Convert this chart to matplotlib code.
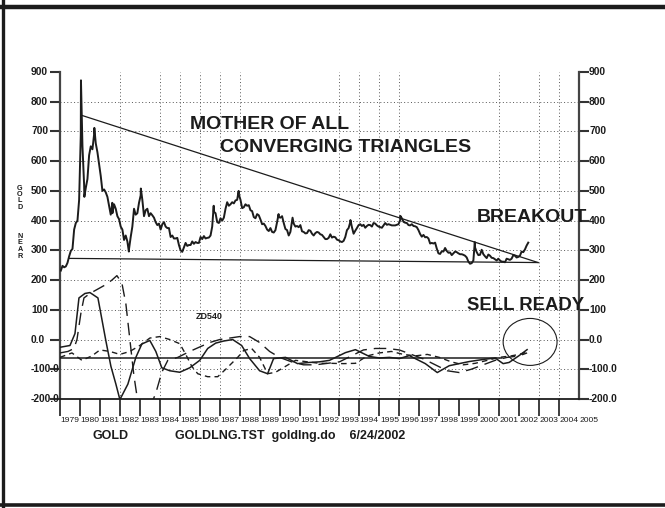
import matplotlib
matplotlib.use("Agg")
import matplotlib.pyplot as plt
import matplotlib.transforms as mtransforms
from matplotlib.patches import Ellipse
import numpy as np

# monthly gold price (near futures), one row per year 1979..2002
gold_monthly = {
    1979: [232, 248, 243, 246, 258, 280, 298, 305, 370, 392, 400, 470],
    1980: [690, 650, 520, 510, 540, 620, 650, 640, 690, 660, 630, 590],
    1981: [550, 500, 505, 495, 480, 450, 420, 425, 455, 440, 415, 405],
    1982: [380, 370, 335, 350, 330, 305, 345, 380, 440, 420, 425, 460],
    1983: [485, 470, 415, 435, 440, 415, 425, 418, 410, 395, 385, 390],
    1984: [370, 388, 395, 380, 375, 375, 345, 350, 340, 340, 342, 318],
    1985: [300, 295, 310, 325, 315, 318, 318, 330, 322, 328, 325, 325],
    1986: [345, 338, 348, 340, 342, 343, 350, 380, 430, 425, 395, 392],
    1987: [408, 400, 410, 440, 462, 450, 455, 462, 458, 468, 470, 488],
    1988: [470, 442, 445, 455, 450, 452, 435, 432, 412, 408, 422, 418],
    1989: [404, 388, 390, 382, 370, 365, 375, 362, 360, 368, 395, 412],
    1990: [410, 415, 392, 372, 368, 350, 362, 398, 390, 380, 382, 378],
    1991: [385, 364, 362, 357, 358, 368, 366, 356, 350, 358, 362, 360],
    1992: [354, 352, 345, 338, 338, 342, 354, 343, 346, 344, 336, 334],
    1993: [330, 328, 332, 345, 368, 375, 395, 378, 356, 366, 375, 385],
    1994: [388, 382, 386, 376, 382, 386, 385, 380, 392, 390, 384, 380],
    1995: [378, 376, 384, 392, 386, 388, 386, 384, 384, 384, 386, 388],
    1996: [402, 408, 396, 393, 392, 385, 384, 388, 382, 381, 378, 368],
    1997: [355, 346, 352, 344, 345, 340, 323, 325, 323, 326, 306, 290],
    1998: [288, 297, 296, 308, 298, 292, 293, 284, 290, 296, 294, 290],
    1999: [287, 287, 285, 282, 276, 262, 255, 257, 266, 310, 294, 284],
    2000: [285, 302, 287, 280, 274, 286, 282, 275, 274, 270, 266, 272],
    2001: [266, 262, 262, 260, 272, 270, 268, 272, 284, 282, 276, 278],
    2002: [282, 296, 294, 303, 316, 326],
}
# short-lived extremes of the weekly line
gold_peaks_t = [1980.05, 1980.22, 1980.72, 1981.62, 1982.45, 1983.05, 1986.7, 1987.95,
                1989.95, 1990.65, 1993.55, 1996.05, 1999.78]
gold_peaks_p = [872, 480, 712, 460, 296, 508, 450, 500, 422, 410, 402, 416, 328]

# oscillator lines (ZD540)
osc_solid_t = [1979.0, 1979.5, 1979.75, 1979.95, 1980.25, 1980.5, 1980.9, 1981.3, 1981.55, 1981.8,
               1982.0, 1982.4, 1982.8, 1983.1, 1983.5, 1983.8, 1984.1, 1984.5, 1985.0, 1985.5,
               1986.0, 1986.4, 1986.8, 1987.2, 1987.65, 1988.1, 1988.5, 1989.0, 1989.4, 1989.7,
               1990.3, 1990.9, 1991.5, 1992.0, 1992.5, 1993.3, 1993.8, 1994.5, 1995.0, 1995.5,
               1996.0, 1996.5, 1997.3, 1997.9, 1998.5, 1999.5, 2000.3, 2000.8, 2001.2, 2001.5,
               2002.0, 2002.4]
osc_solid_v = [-26, -20, 20, 140, 155, 158, 140, -5, -90, -150,
               -202, -150, -60, -15, -3, -40, -95, -105, -110, -95,
               -70, -30, -12, -5, 0, -20, -64, -105, -115, -64,
               -60, -81, -77, -75, -70, -44, -34, -57, -62, -60,
               -64, -54, -81, -111, -88, -74, -66, -62, -81, -77,
               -54, -34]

osc_long_t = [1979.0, 1979.4, 1979.7, 1979.85, 1980.05, 1980.2, 1980.5, 1980.9, 1981.3, 1981.6,
              1981.85, 1982.1, 1982.3, 1982.5, 1982.7, 1982.9, 1983.2, 1983.5, 1983.8, 1984.1,
              1984.4, 1984.9, 1985.5, 1986.0, 1986.5, 1987.0, 1987.5, 1988.0, 1988.5, 1989.0,
              1989.5, 1990.0, 1990.6, 1991.2, 1991.8, 1992.4, 1993.0, 1993.6, 1994.2, 1994.8,
              1995.4, 1996.0, 1996.6, 1997.2, 1997.8, 1998.4, 1999.0, 1999.6, 2000.2, 2000.8,
              2001.4, 2002.0, 2002.4]
osc_long_v = [-45, -40, -30, 0, 90, 140, 155, 170, 185, 200,
              215, 190, 120, 0, -120, -210, -240, -230, -180, -110,
              -70, -60, -40, -25, -10, 0, 5, 10, 10, -10,
              -40, -60, -75, -85, -85, -80, -75, -55, -35, -30,
              -30, -35, -50, -65, -85, -105, -111, -100, -85, -70,
              -60, -55, -45]

osc_short_t = [1979.0, 1979.6, 1980.1, 1980.6, 1981.0, 1981.5, 1982.0, 1982.5, 1983.0, 1983.5,
               1984.0, 1984.5, 1985.0, 1985.3, 1985.6, 1985.9, 1986.4, 1986.9, 1987.3, 1987.9,
               1988.2, 1988.6, 1989.0, 1989.4, 1989.8, 1990.3, 1990.8, 1991.4, 1992.0, 1992.6,
               1993.2, 1993.8, 1994.4, 1995.0, 1995.6, 1996.2, 1996.8, 1997.4, 1998.0, 1998.6,
               1999.2, 1999.8, 2000.4, 2001.0, 2001.6, 2002.0, 2002.4]
osc_short_v = [-60, -45, -70, -55, -35, -40, -50, -40, -20, 5,
               10, 0, -14, -50, -90, -115, -125, -125, -100, -60,
               -37, -30, -60, -115, -110, -90, -70, -75, -80, -80,
               -81, -80, -55, -45, -40, -50, -55, -50, -60, -75,
               -85, -80, -70, -60, -55, -50, -42]

zero_line = -62
tri_top_t = [1980.05, 2002.95]
tri_top_v = [755, 259]
tri_bot_t = [1979.45, 2002.95]
tri_bot_v = [273, 259]

ytick_vals = [-200, -100, 0, 100, 200, 300, 400, 500, 600, 700, 800, 900]
ytick_labels = ['-200.0', '-100.0', '0.0', '100', '200', '300', '400', '500', '600', '700', '800', '900']
years = list(range(1979, 2006))
grid_years = [1982, 1984, 1985, 1986, 1987, 1988, 1993, 1994, 1995, 1996, 2001, 2003, 2004]
grid_levels = [800, 700, 600, 500, 400, 300, 200, 100, 0, -100]

# build the price series
gold_t = []
gold_p = []
for yr, vals in gold_monthly.items():
    for m, v in enumerate(vals):
        gold_t.append(yr + (m + 0.5) / 12)
        gold_p.append(v)
gold_t = np.array(gold_t + gold_peaks_t)
gold_p = np.array(gold_p + gold_peaks_p)
order = np.argsort(gold_t)
gold_t = gold_t[order]
gold_p = gold_p[order]

ink = '#1c1c1c'
fig = plt.figure(figsize=(6.65, 5.08), dpi=100)
ax = fig.add_axes([60 / 665, 1 - 399 / 508, (579 - 60) / 665, (399 - 72) / 508])
ax.set_xlim(1979, 2005)
ax.set_ylim(-200, 900)

for g in grid_levels:
    ax.axhline(g, color='#555555', lw=0.7, ls=(0, (1, 2.5)), zorder=1)
for gy in grid_years:
    ax.axvline(gy, color='#555555', lw=0.7, ls=(0, (1, 2.5)), zorder=1)

ax.plot(gold_t, gold_p, color=ink, lw=1.4, zorder=3)
ax.plot(tri_top_t, tri_top_v, color=ink, lw=0.9, zorder=3)
ax.plot(tri_bot_t, tri_bot_v, color=ink, lw=0.9, zorder=3)

ax.plot(osc_solid_t, osc_solid_v, color=ink, lw=1.1, zorder=3)
ax.plot(osc_long_t, osc_long_v, color=ink, lw=1.0, ls=(0, (9, 5)), zorder=3)
ax.plot(osc_short_t, osc_short_v, color=ink, lw=1.0, ls=(0, (4, 3)), zorder=3)
ax.plot([1979, 2001.15], [zero_line, zero_line], color=ink, lw=1.1, zorder=3)

ax.add_patch(Ellipse((2002.55, -8), 2.7, 158, fill=False, ec=ink, lw=0.8, zorder=4))

# axes frame
ax.spines['top'].set_visible(False)
for side in ['left', 'right']:
    ax.spines[side].set_color('#444444')
    ax.spines[side].set_linewidth(1.6)
ax.spines['bottom'].set_color(ink)
ax.spines['bottom'].set_linewidth(1.3)

ax.set_yticks(ytick_vals)
ax.set_yticklabels([])
ax.tick_params(axis='y', left=True, right=True, direction='out', length=7, width=1.5, color='#333333')
ax.set_xticks(years[:-1])
ax.set_xticklabels([])
ax.tick_params(axis='x', direction='out', length=12, width=1.2, color=ink)

lab = dict(fontsize=7.4, fontweight='bold', family='Liberation Sans', color=ink, va='center')
trl = mtransforms.blended_transform_factory(fig.transFigure, ax.transData)
for v, s in zip(ytick_vals, ytick_labels):
    fig.text(31 / 665, v, s, transform=trl, ha='left', **lab)
    fig.text(589 / 665, v, s, transform=trl, ha='left', **lab)

trx = mtransforms.blended_transform_factory(ax.transData, fig.transFigure)
for yr in years:
    fig.text(yr + 0.5, 1 - 421 / 508, str(yr), transform=trx, ha='center', va='center',
             fontsize=6.1, family='Liberation Sans', color=ink)

big = dict(fontsize=14, fontweight='bold', family='Liberation Sans', color=ink)
ax.text(1985.5, 707, 'MOTHER OF ALL', ha='left', va='baseline', **big)
ax.text(1987.0, 630, 'CONVERGING TRIANGLES', ha='left', va='baseline', **big)
ax.text(1999.9, 397, 'BREAKOUT', ha='left', va='baseline', **big)
ax.text(1999.4, 98, 'SELL READY', ha='left', va='baseline', fontsize=13.3, fontweight='bold',
        family='Liberation Sans', color=ink)
ax.text(1985.8, 68, 'ZD540', ha='left', va='baseline', fontsize=6.5, fontweight='bold',
        family='Liberation Sans', color=ink)

side = dict(ha='center', va='center', fontsize=5.2, fontweight='bold',
            family='Liberation Sans', color=ink)
for i, ch in enumerate('GOLD'):
    fig.text(20 / 665, 1 - (188 + 6.5 * i) / 508, ch, **side)
for i, ch in enumerate('NEAR'):
    fig.text(20 / 665, 1 - (236 + 6.8 * i) / 508, ch, **side)

bot = dict(fontsize=9, fontweight='bold', family='Liberation Sans', color=ink, va='baseline')
fig.text(93 / 665, 1 - 439 / 508, 'GOLD', ha='left', **bot)
fig.text(175 / 665, 1 - 439 / 508, 'GOLDLNG.TST  goldlng.do    6/24/2002', ha='left', **bot)

# outer frame of the page
fig.add_artist(plt.Line2D([0, 1], [1 - 7 / 508, 1 - 7 / 508], color=ink, lw=3.2))
fig.add_artist(plt.Line2D([0, 1], [1 - 505 / 508, 1 - 505 / 508], color=ink, lw=2.6))
fig.add_artist(plt.Line2D([3 / 665, 3 / 665], [0, 1], color=ink, lw=2.4))

fig.savefig('out.png', dpi=100)
